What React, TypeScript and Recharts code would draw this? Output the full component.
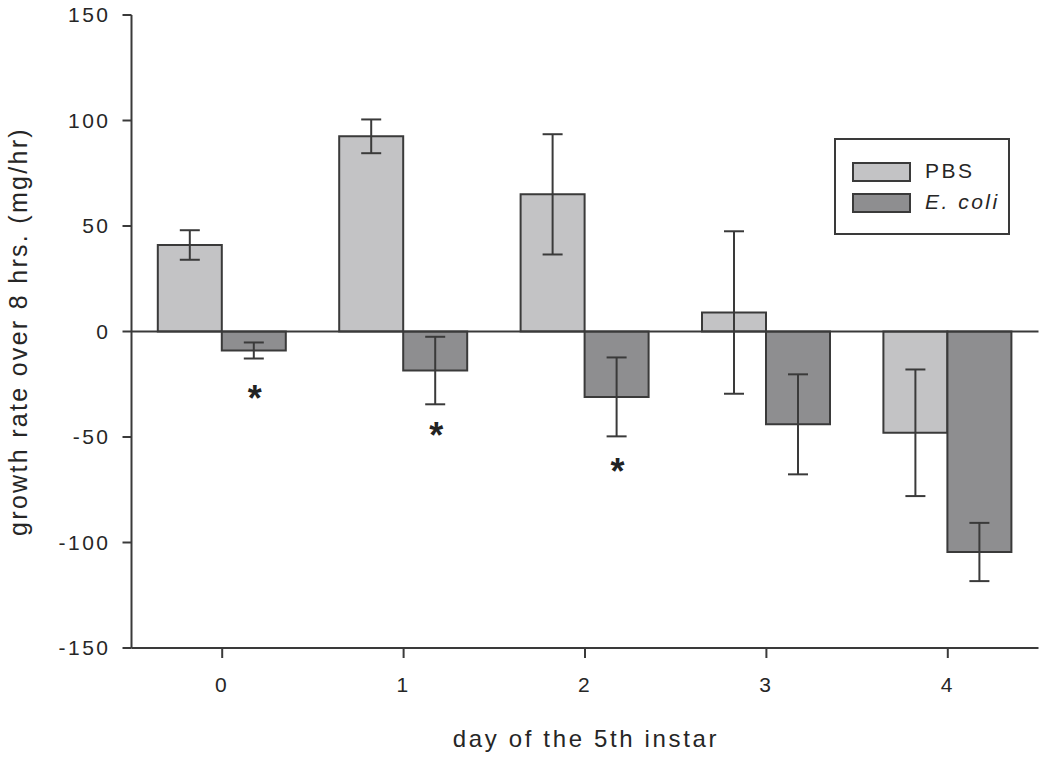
import React from 'react';
import { BarChart, Bar, XAxis, YAxis, ErrorBar, ReferenceLine, LabelList } from 'recharts';

const days = ['0', '1', '2', '3', '4'];
const pbs = [41, 92.5, 65, 9, -48];
const pbsErr = [7, 8, 28.5, 38.5, 30];
const ecoli = [-9, -18.5, -31, -44, -104.5];
const ecoliErr = [3.8, 16, 18.7, 23.7, 13.8];
// level (in y units) at which the significance asterisk is centred
const ecoliStarAt: (number | null)[] = [-28.5, -46, -63, null, null];
const yTicks = [-150, -100, -50, 0, 50, 100, 150];

const data = days.map((d, i) => ({
  day: d,
  pbs: pbs[i],
  pbsErr: pbsErr[i],
  ecoli: ecoli[i],
  ecoliErr: ecoliErr[i],
  star: ecoliStarAt[i] === null ? '' : '*',
}));

const FONT = '"Liberation Sans", Arial, Helvetica, sans-serif';
const INK = '#3a3a3a';
const TXT = '#262626';
const PBS_FILL = '#c3c3c5';
const ECOLI_FILL = '#8e8e90';

const STAR_FS = 36;

const renderStar = (props: any) => {
  const { index } = props;
  const at = ecoliStarAt[index];
  if (at === null || at === undefined) return null;
  const x = props.x;
  const y = props.y;
  const w = props.width;
  const h = props.height;
  const v = ecoli[index];
  const top = Math.min(y, y + h);
  const bottom = Math.max(y, y + h);
  const pxPerUnit = (bottom - top) / Math.abs(v);
  const zeroY = v < 0 ? top : bottom;
  const cy = zeroY - at * pxPerUnit;
  return (
    <text
      key={`star-${index}`}
      x={x + w / 2 + 1}
      y={cy + 0.53 * STAR_FS}
      textAnchor="middle"
      fontFamily={FONT}
      fontSize={STAR_FS}
      fontWeight="bold"
      fill="#222"
    >
      *
    </text>
  );
};

const LegendBox = () => (
  <div
    style={{
      position: 'absolute',
      left: 834,
      top: 138,
      width: 172,
      height: 93,
      border: `2px solid ${INK}`,
      background: '#fff',
      fontFamily: FONT,
      fontSize: 21,
      color: TXT,
      letterSpacing: 2.5,
    }}
  >
    {[
      { name: 'PBS', fill: PBS_FILL, italic: false, top: 22 },
      { name: 'E. coli', fill: ECOLI_FILL, italic: true, top: 53 },
    ].map((it) => (
      <div key={it.name}>
        <div
          style={{
            position: 'absolute',
            left: 16,
            top: it.top,
            width: 55,
            height: 16,
            background: it.fill,
            border: `2px solid ${INK}`,
          }}
        />
        <div
          style={{
            position: 'absolute',
            left: 89,
            top: it.top - 3,
            lineHeight: '24px',
            fontStyle: it.italic ? 'italic' : 'normal',
            whiteSpace: 'nowrap',
          }}
        >
          {it.name}
        </div>
      </div>
    ))}
  </div>
);

export default function App() {
  return (
    <div style={{ position: 'absolute', left: 0, top: 0, width: 1050, height: 758, background: '#fff' }}>
      <BarChart
        width={1050}
        height={758}
        data={data}
        margin={{ top: 15, right: 11.5, left: 0, bottom: 0 }}
        barCategoryGap="14.5%"
        barGap={0}
      >
        <XAxis
          dataKey="day"
          height={110}
          axisLine={{ stroke: INK, strokeWidth: 2 }}
          tickLine={{ stroke: INK, strokeWidth: 2 }}
          tickSize={10}
          tickMargin={19}
          tick={{ fill: TXT, fontSize: 21, fontFamily: FONT, letterSpacing: 2.5 } as any}
          label={{
            content: (p: any) => {
              const vb = p.viewBox || { x: 131.5, y: 648, width: 907, height: 110 };
              return (
                <text
                  x={vb.x + vb.width / 2 + 1}
                  y={vb.y + 98.7}
                  textAnchor="middle"
                  fontFamily={FONT}
                  fontSize={24}
                  letterSpacing={2.65}
                  fill={TXT}
                >
                  day of the 5th instar
                </text>
              );
            },
          }}
        />
        <YAxis
          width={131.5}
          domain={[-150, 150]}
          ticks={yTicks}
          interval={0}
          allowDataOverflow
          axisLine={{ stroke: INK, strokeWidth: 2 }}
          tickLine={{ stroke: INK, strokeWidth: 2 }}
          tickSize={9}
          tickMargin={12}
          tick={{ fill: TXT, fontSize: 21, fontFamily: FONT, letterSpacing: 2.5 } as any}
          label={{
            content: (p: any) => {
              const vb = p.viewBox || { x: 0, y: 15, width: 131.5, height: 633 };
              const cx = 27;
              const cy = vb.y + vb.height / 2;
              return (
                <text
                  x={cx}
                  y={cy}
                  transform={`rotate(-90 ${cx} ${cy})`}
                  textAnchor="middle"
                  fontFamily={FONT}
                  fontSize={25}
                  letterSpacing={2.3}
                  fill={TXT}
                >
                  growth rate over 8 hrs. (mg/hr)
                </text>
              );
            },
          }}
        />
        <Bar dataKey="pbs" name="PBS" fill={PBS_FILL} stroke={INK} strokeWidth={2} isAnimationActive={false}>
          <ErrorBar dataKey="pbsErr" width={10} stroke={INK} strokeWidth={2} />
        </Bar>
        <Bar dataKey="ecoli" name="E. coli" fill={ECOLI_FILL} stroke={INK} strokeWidth={2} isAnimationActive={false}>
          <ErrorBar dataKey="ecoliErr" width={10} stroke={INK} strokeWidth={2} />
          <LabelList dataKey="star" content={renderStar} />
        </Bar>
        <ReferenceLine y={0} stroke={INK} strokeWidth={2} />
      </BarChart>
      <LegendBox />
    </div>
  );
}
